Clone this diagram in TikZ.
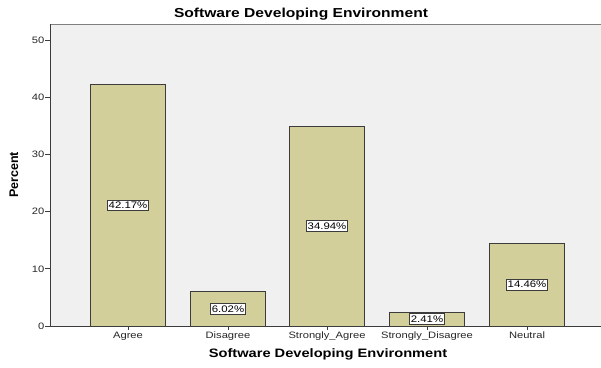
\documentclass[tikz,border=0pt]{standalone}
\usepackage{fontspec}
\setmainfont{Liberation Sans}
\newfontfamily\wfont[FakeStretch=1.2]{Liberation Sans}
\definecolor{barfill}{HTML}{D3CF9B}
\definecolor{plotbg}{HTML}{F0F0F0}
\definecolor{edge}{HTML}{3C3C3C}
\definecolor{topedge}{HTML}{808080}
\begin{document}
\begin{tikzpicture}[x=1pt,y=-1pt,
  bar/.style={draw=edge,line width=1pt,fill=barfill},
  vlabel/.style={draw=edge,fill=white,line width=0.7pt,inner xsep=1.5pt,inner ysep=2pt,font=\wfont\fontsize{9.5}{10}\selectfont},
  ticklab/.style={font=\wfont\fontsize{9.3}{10}\selectfont,text=black!85},
  axtitle/.style={font=\wfont\bfseries\fontsize{12.2}{14}\selectfont}]
\useasboundingbox (0,0) rectangle (601,367);
\fill[plotbg] (50,24) rectangle (601,326);
\draw[topedge,line width=1pt] (50,24) -- (601,24);
\draw[edge,line width=0.9pt] (50,24) -- (50,326) -- (601,326);
% y ticks
\foreach \v in {0,10,20,30,40,50}{
  \draw[edge,line width=0.9pt] (45,326-5.72*\v) -- (50,326-5.72*\v);
  \node[ticklab,anchor=east,inner sep=0.5pt] (yt\v) at (45,326-5.72*\v) {\v};
}
% bars
\foreach \n/\c/\v/\t in {a/128/42.17/Agree,b/228/6.02/Disagree,c/327/34.94/Strongly\_Agree,d/427/2.41/Strongly\_Disagree,e/527/14.46/Neutral}{
  \draw[bar] (\c-37.5,326) rectangle (\c+37.5,326-5.72*\v);
  \node[vlabel] (l\n) at (\c,326-2.86*\v) {\v\%};
  \draw[edge,line width=0.9pt] (\c,326) -- (\c,330);
  \node[ticklab,anchor=north,inner sep=1pt] (x\n) at (\c,330.5) {\t};
}
\node[axtitle,font=\wfont\bfseries\fontsize{13}{15}\selectfont] (title) at (301,14.5) {Software Developing Environment};
\node[axtitle] (xtitle) at (328,354.5) {Software Developing Environment};
\node[font=\bfseries\fontsize{12.5}{14}\selectfont,rotate=90] (ytitle) at (14,175) {Percent};
\end{tikzpicture}
\end{document}
